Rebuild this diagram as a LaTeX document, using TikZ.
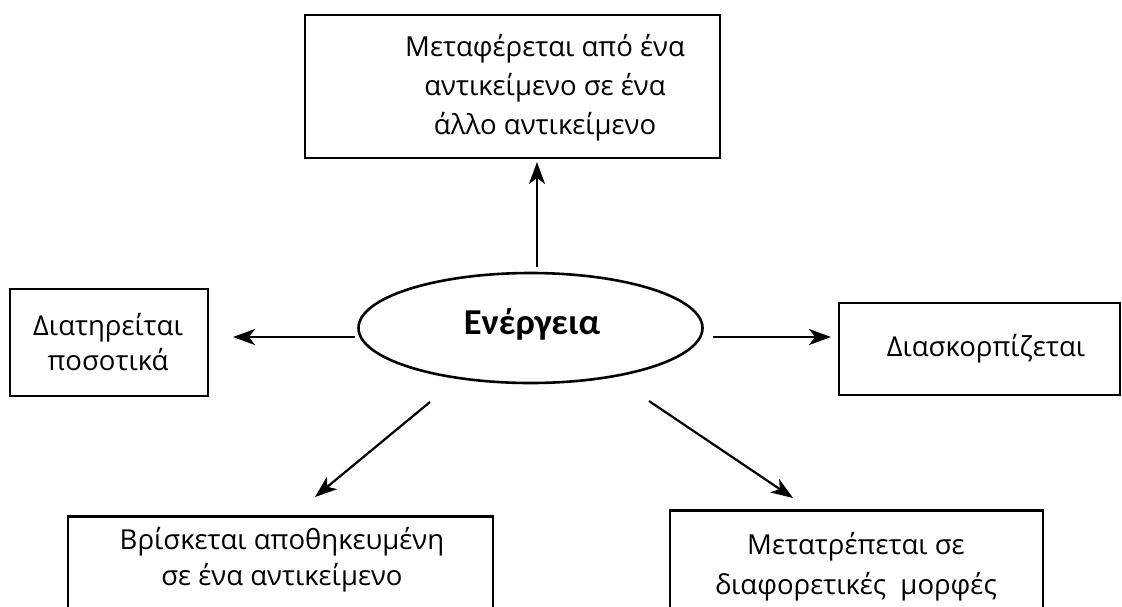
\documentclass[tikz,border=0pt]{standalone}
\usepackage{fontspec}
\setmainfont{Open Sans}
\newfontfamily\boldgr{Carlito}
\usetikzlibrary{arrows.meta}
\tikzset{
  box/.style={draw, line width=2.6pt, minimum width=#1, inner sep=0pt},
  txt/.style={align=center, font=\fontsize{27.5}{39}\selectfont, inner sep=0pt},
  conn/.style={line width=2.2pt, -{Stealth[length=22pt, width=16pt, inset=6pt]}},
}
\begin{document}
\begin{tikzpicture}[x=1pt, y=-1pt]
\clip (0,0) rectangle (1122,606);
\fill[white] (0,0) rectangle (1122,606);
% top box
\node[box=415pt, minimum height=143pt] (topbox) at (512.5,86.5) {};
\node[txt] (toptext) at (545,88) {Μεταφέρεται από ένα\\αντικείμενο σε ένα\\άλλο αντικείμενο};
% left box
\node[box=198pt, minimum height=107pt] (leftbox) at (109,342.5) {};
\node[txt, font=\fontsize{27.5}{35}\selectfont] (lefttext) at (108,342.5) {Διατηρείται\\ποσοτικά};
% right box
\node[box=281pt, minimum height=92pt] (rightbox) at (979.5,349) {};
\node[txt] (righttext) at (986,349) {Διασκορπίζεται};
% lower-left box
\node[box=425pt, minimum height=140pt, anchor=north] (llbox) at (280.5,515) {};
\node[txt, font=\fontsize{27.5}{36}\selectfont] (lltext) at (282,560) {Βρίσκεται αποθηκευμένη\\σε ένα αντικείμενο};
% lower-right box
\node[box=373pt, minimum height=140pt, anchor=north] (lrbox) at (856.5,509) {};
\node[txt, font=\fontsize{27.5}{40}\selectfont] (lrtext) at (856,567) {Μετατρέπεται σε\\διαφορετικές\ \ μορφές};
% ellipse
\draw[line width=2.6pt] (530.5,328) ellipse [x radius=172, y radius=55];
\node[font=\boldgr\bfseries\fontsize{36.5}{40}\selectfont, inner sep=0pt] (energy) at (532,324) {Ενέργεια};
% connector endpoints
\coordinate (upS) at (537,267); \coordinate (upE) at (537,162);
\coordinate (lS) at (355,337); \coordinate (lE) at (233,337);
\coordinate (rS) at (713,337); \coordinate (rE) at (831,337);
\coordinate (llS) at (430,402); \coordinate (llE) at (315,497);
\coordinate (lrS) at (649,401); \coordinate (lrE) at (793,498);
\draw[conn] (upS) -- (upE);
\draw[conn] (lS) -- (lE);
\draw[conn] (rS) -- (rE);
\draw[conn] (llS) -- (llE);
\draw[conn] (lrS) -- (lrE);
\end{tikzpicture}
\end{document}
